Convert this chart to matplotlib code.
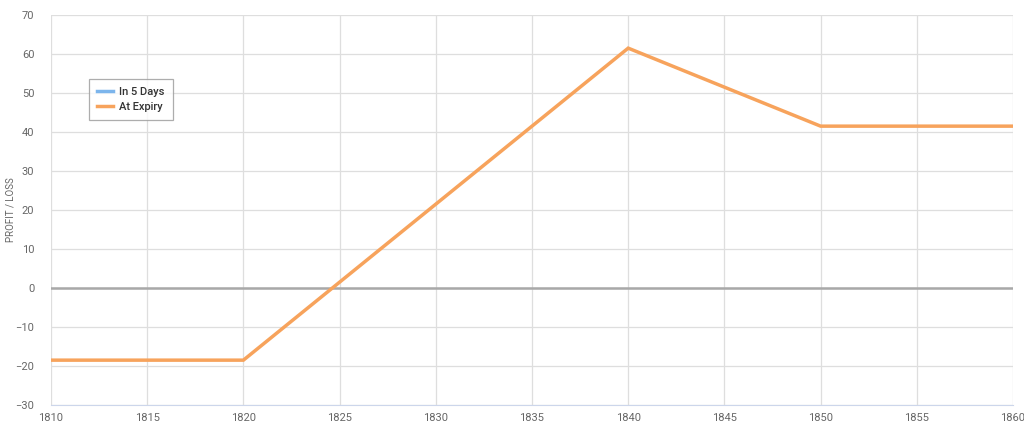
import matplotlib
matplotlib.use("Agg")
import matplotlib.pyplot as plt

# data
price = [1810, 1820, 1840, 1850, 1860]
at_expiry = [-18.5, -18.5, 61.5, 41.5, 41.5]
in_5_days_x = []
in_5_days_y = []

xticks = list(range(1810, 1861, 5))
yticks = list(range(-30, 71, 10))

plt.rcParams["font.family"] = ["Roboto", "DejaVu Sans"]

fig = plt.figure(figsize=(10.24, 4.32), dpi=100)
ax = fig.add_axes([51 / 1024, 1 - 405 / 432, 962 / 1024, 390 / 432])

ax.plot(in_5_days_x, in_5_days_y, color="#7cb5ec", lw=2.5, label="In 5 Days")
ax.plot(price, at_expiry, color="#f7a35c", lw=2.5, label="At Expiry",
        solid_joinstyle="miter", zorder=3)
ax.axhline(0, color="#a8a8a8", lw=1.8, zorder=2)

ax.set_xlim(1810, 1860)
ax.set_ylim(-30, 70)
ax.set_xticks(xticks)
ax.set_yticks(yticks)
ax.grid(True, color="#dedede", lw=0.9)
ax.set_axisbelow(True)
for s in ["top", "right", "left"]:
    ax.spines[s].set_visible(False)
ax.spines["bottom"].set_color("#ccd6eb")
ax.tick_params(length=0, labelsize=8, colors="#666666")
ax.tick_params(axis="x", pad=6)
ax.tick_params(axis="y", pad=12)
ax.set_ylabel("PROFIT / LOSS", fontsize=7, color="#666666")
ax.yaxis.set_label_coords(-0.037, 0.5)

leg = ax.legend(loc="upper left", bbox_to_anchor=(0.040, 0.836),
                fontsize=8, frameon=True, fancybox=False,
                handlelength=1.4, handletextpad=0.6, borderpad=0.7,
                labelspacing=0.5, borderaxespad=0)
leg.get_frame().set_edgecolor("#999999")
leg.get_frame().set_linewidth(0.9)
for t in leg.get_texts():
    t.set_color("#333333")
    t.set_fontweight("medium")

plt.savefig("out.png", dpi=100)
